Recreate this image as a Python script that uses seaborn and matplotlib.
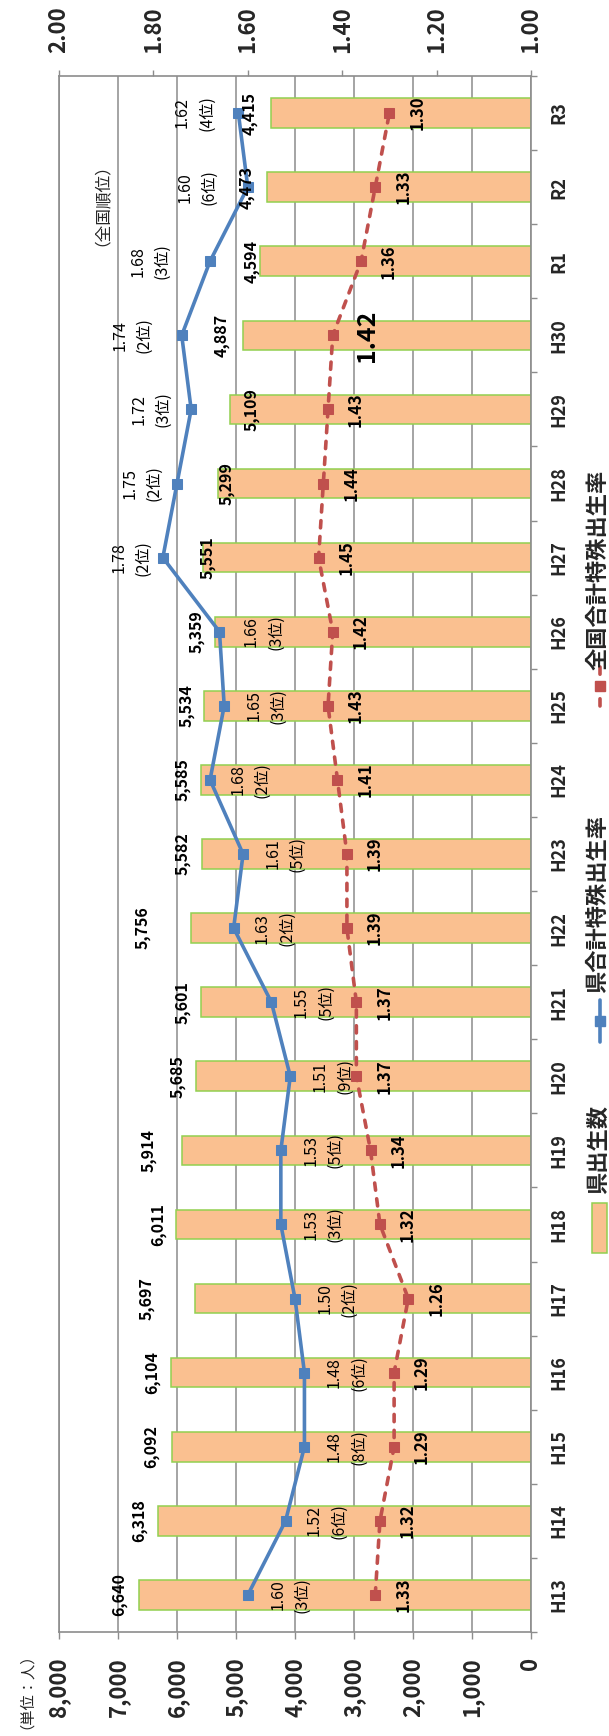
import numpy as np
import pandas as pd
import matplotlib
matplotlib.use("Agg")
import matplotlib.pyplot as plt
import seaborn as sns
from matplotlib.patches import Rectangle
from matplotlib.lines import Line2D

# ---- data ---------------------------------------------------------------
years = ["H13", "H14", "H15", "H16", "H17", "H18", "H19", "H20", "H21", "H22", "H23",
         "H24", "H25", "H26", "H27", "H28", "H29", "H30", "R1", "R2", "R3"]
births = [6640, 6318, 6092, 6104, 5697, 6011, 5914, 5685, 5601, 5756, 5582,
          5585, 5534, 5359, 5551, 5299, 5109, 4887, 4594, 4473, 4415]
pref_rate = [1.60, 1.52, 1.48, 1.48, 1.50, 1.53, 1.53, 1.51, 1.55, 1.63, 1.61,
             1.68, 1.65, 1.66, 1.78, 1.75, 1.72, 1.74, 1.68, 1.60, 1.62]
pref_rank = [3, 6, 8, 6, 2, 3, 5, 9, 5, 2, 5, 2, 3, 3, 2, 2, 3, 2, 3, 6, 4]
nat_rate = [1.33, 1.32, 1.29, 1.29, 1.26, 1.32, 1.34, 1.37, 1.37, 1.39, 1.39,
            1.41, 1.43, 1.42, 1.45, 1.44, 1.43, 1.42, 1.36, 1.33, 1.30]
births_ticks = [0, 1000, 2000, 3000, 4000, 5000, 6000, 7000, 8000]
rate_ticks = [1.0, 1.2, 1.4, 1.6, 1.8, 2.0]

# ---- label placement (pixels) -------------------------------------------
# gap between bar end and its count label (negative = label sits inside bar)
births_label_gap = [12, 11, 12, 11, 40, 10, 25, 10, 10, 41, 11,
                    11, 10, 10, -12, -16, -30, 13, 0, 12, 13]
# horizontal shift of the prefecture rate labels from their markers
pref_label_dx = [42, 41, 42, 42, 42, 42, 42, 42, 42, 41, 42,
                 40, 42, 44, -32, -35, -40, -50, -60, -51, -44]
nat_label_dx = 28
highlight_year = "H30"

# ---- style ----------------------------------------------------------------
BAR = "#FAC090"
BAR_EDGE = "#92D050"
BLUE = "#4F81BD"
RED = "#C0504D"
GRAY = "#8C8C8C"
PX = 0.72  # points per pixel at 100 dpi

sns.set_theme(style="white")
plt.rcParams["font.family"] = ["Noto Sans CJK JP", "DejaVu Sans"]
plt.rcParams["axes.unicode_minus"] = False

W, H = 609, 1736
fig = plt.figure(figsize=(W / 100, H / 100), dpi=100)
fig.patch.set_facecolor("white")
L, R, T, B = 59, 531, 76, 1632
ax = fig.add_axes([L / W, 1 - B / H, (R - L) / W, (B - T) / H])

n = len(years)
order = years[::-1]
pos = [n - 1 - i for i in range(n)]

# births as horizontal bars, rates as lines on a twin (top) axis
df = pd.DataFrame({"year": years, "births": births})
sns.barplot(data=df, x="births", y="year", order=order, orient="h",
            color=BAR, saturation=1, edgecolor=BAR_EDGE, linewidth=1.1,
            width=0.4, ax=ax, zorder=2)

ax2 = ax.twiny()
sns.lineplot(x=pref_rate, y=pos, sort=False, estimator=None, ax=ax2,
             color=BLUE, linewidth=2.6, marker="s", markersize=7,
             markeredgecolor=BLUE, markerfacecolor=BLUE, zorder=3)
sns.lineplot(x=nat_rate, y=pos, sort=False, estimator=None, ax=ax2,
             color=RED, linewidth=2.6, marker="s", markersize=7,
             markeredgecolor=RED, markerfacecolor=RED, zorder=3)
red_line = ax2.lines[-1]
red_line.set_linestyle((0, (2.0, 2.4)))
red_line.set_dash_capstyle("round")

# ---- axes -----------------------------------------------------------------
ax.set_xlim(8000, 0)
ax2.set_xlim(2.0, 1.0)
for a in (ax, ax2):
    a.set_xlabel("")
    a.set_ylabel("")

ax.set_axisbelow(True)
ax.xaxis.grid(True, color=GRAY, linewidth=1.1)
ax.yaxis.grid(False)

for name, sp in ax.spines.items():
    sp.set_color(GRAY)
    sp.set_linewidth(1.2)
    sp.set_visible(name in ("bottom", "right", "left"))
for name, sp in ax2.spines.items():
    sp.set_color(GRAY)
    sp.set_linewidth(1.2)
    sp.set_visible(name == "top")

ax.set_xticks(births_ticks)
ax.set_xticklabels([f"{v:,}" for v in births_ticks], rotation=90,
                   fontsize=16, fontweight="bold")
ax.tick_params(axis="x", direction="out", length=5, width=1, color=GRAY,
               pad=13, bottom=True)

ax2.set_xticks(rate_ticks)
ax2.set_xticklabels([f"{v:.2f}" for v in rate_ticks], rotation=90,
                    fontsize=16, fontweight="bold")
ax2.tick_params(axis="x", direction="out", length=4.5, width=1, color=GRAY,
                pad=12, top=True)

ax.yaxis.tick_right()
ax.set_yticks(range(n))
ax.set_yticklabels(order, rotation=90, fontsize=13, fontweight="bold")
ax.set_yticks(np.arange(-0.5, n, 1), minor=True)
ax.tick_params(axis="y", which="major", length=0, pad=13, right=True, left=False)
ax.tick_params(axis="y", which="minor", direction="out", length=4.5, width=1,
               color=GRAY, right=True, left=False)
for lbl in ax.get_yticklabels():
    lbl.set_verticalalignment("center")

# ---- data labels ----------------------------------------------------------
for i, y in enumerate(years):
    ax2.annotate(f"{births[i]:,}", xy=(births[i], pos[i]), xycoords=ax.transData,
                 xytext=(-births_label_gap[i] * PX, 0), textcoords="offset points",
                 rotation=90, ha="right", va="center", fontsize=11.5,
                 fontweight="bold", color="black", zorder=5)
    ax2.annotate(f"{pref_rate[i]:.2f}\n({pref_rank[i]}位)", xy=(pref_rate[i], pos[i]),
                 xytext=(pref_label_dx[i] * PX, 0), textcoords="offset points",
                 rotation=90, ha="center", va="center", multialignment="center",
                 fontsize=11.5, linespacing=1.55, color="black", zorder=5)
    big = y == highlight_year
    ax2.annotate(f"{nat_rate[i]:.2f}", xy=(nat_rate[i], pos[i]),
                 xytext=((nat_label_dx + (6 if big else 0)) * PX, 0),
                 textcoords="offset points", rotation=90, ha="center", va="center",
                 fontsize=18 if big else 12, fontweight="bold", color="black",
                 zorder=5)

ax.set_ylim(n - 0.5, -0.5)


# ---- side notes and legend --------------------------------------------------
def fx(x):
    return x / W


def fy(y):
    return 1 - y / H


fig.text(fx(94), fy(196), "（全国順位）", rotation=90, ha="center", va="center",
         fontsize=12)
fig.text(fx(18), fy(1683), "（単位：人）", rotation=90, ha="center", va="center",
         fontsize=11)

fig.add_artist(Rectangle((fx(592), fy(1253)), fx(15), 50 / H,
                         transform=fig.transFigure, facecolor=BAR,
                         edgecolor=BAR_EDGE, linewidth=1.1))
fig.text(fx(598), fy(1150), "県出生数", rotation=90, ha="center", va="center",
         fontsize=16, fontweight="bold")

fig.add_artist(Line2D([fx(600), fx(600)], [fy(1042), fy(1000)],
                      transform=fig.transFigure, color=BLUE, linewidth=2.6))
fig.add_artist(Line2D([fx(600)], [fy(1021)], transform=fig.transFigure,
                      color=BLUE, marker="s", markersize=7, linestyle="none"))
fig.text(fx(598), fy(904), "県合計特殊出生率", rotation=90, ha="center",
         va="center", fontsize=16, fontweight="bold")

fig.add_artist(Line2D([fx(600), fx(600)], [fy(706), fy(667)],
                      transform=fig.transFigure, color=RED, linewidth=2.6,
                      linestyle=(0, (2.0, 2.4)), dash_capstyle="round"))
fig.add_artist(Line2D([fx(600)], [fy(686)], transform=fig.transFigure,
                      color=RED, marker="s", markersize=7, linestyle="none"))
fig.text(fx(598), fy(570), "全国合計特殊出生率", rotation=90, ha="center",
         va="center", fontsize=16, fontweight="bold")

fig.savefig("out.png", dpi=100, facecolor="white")
